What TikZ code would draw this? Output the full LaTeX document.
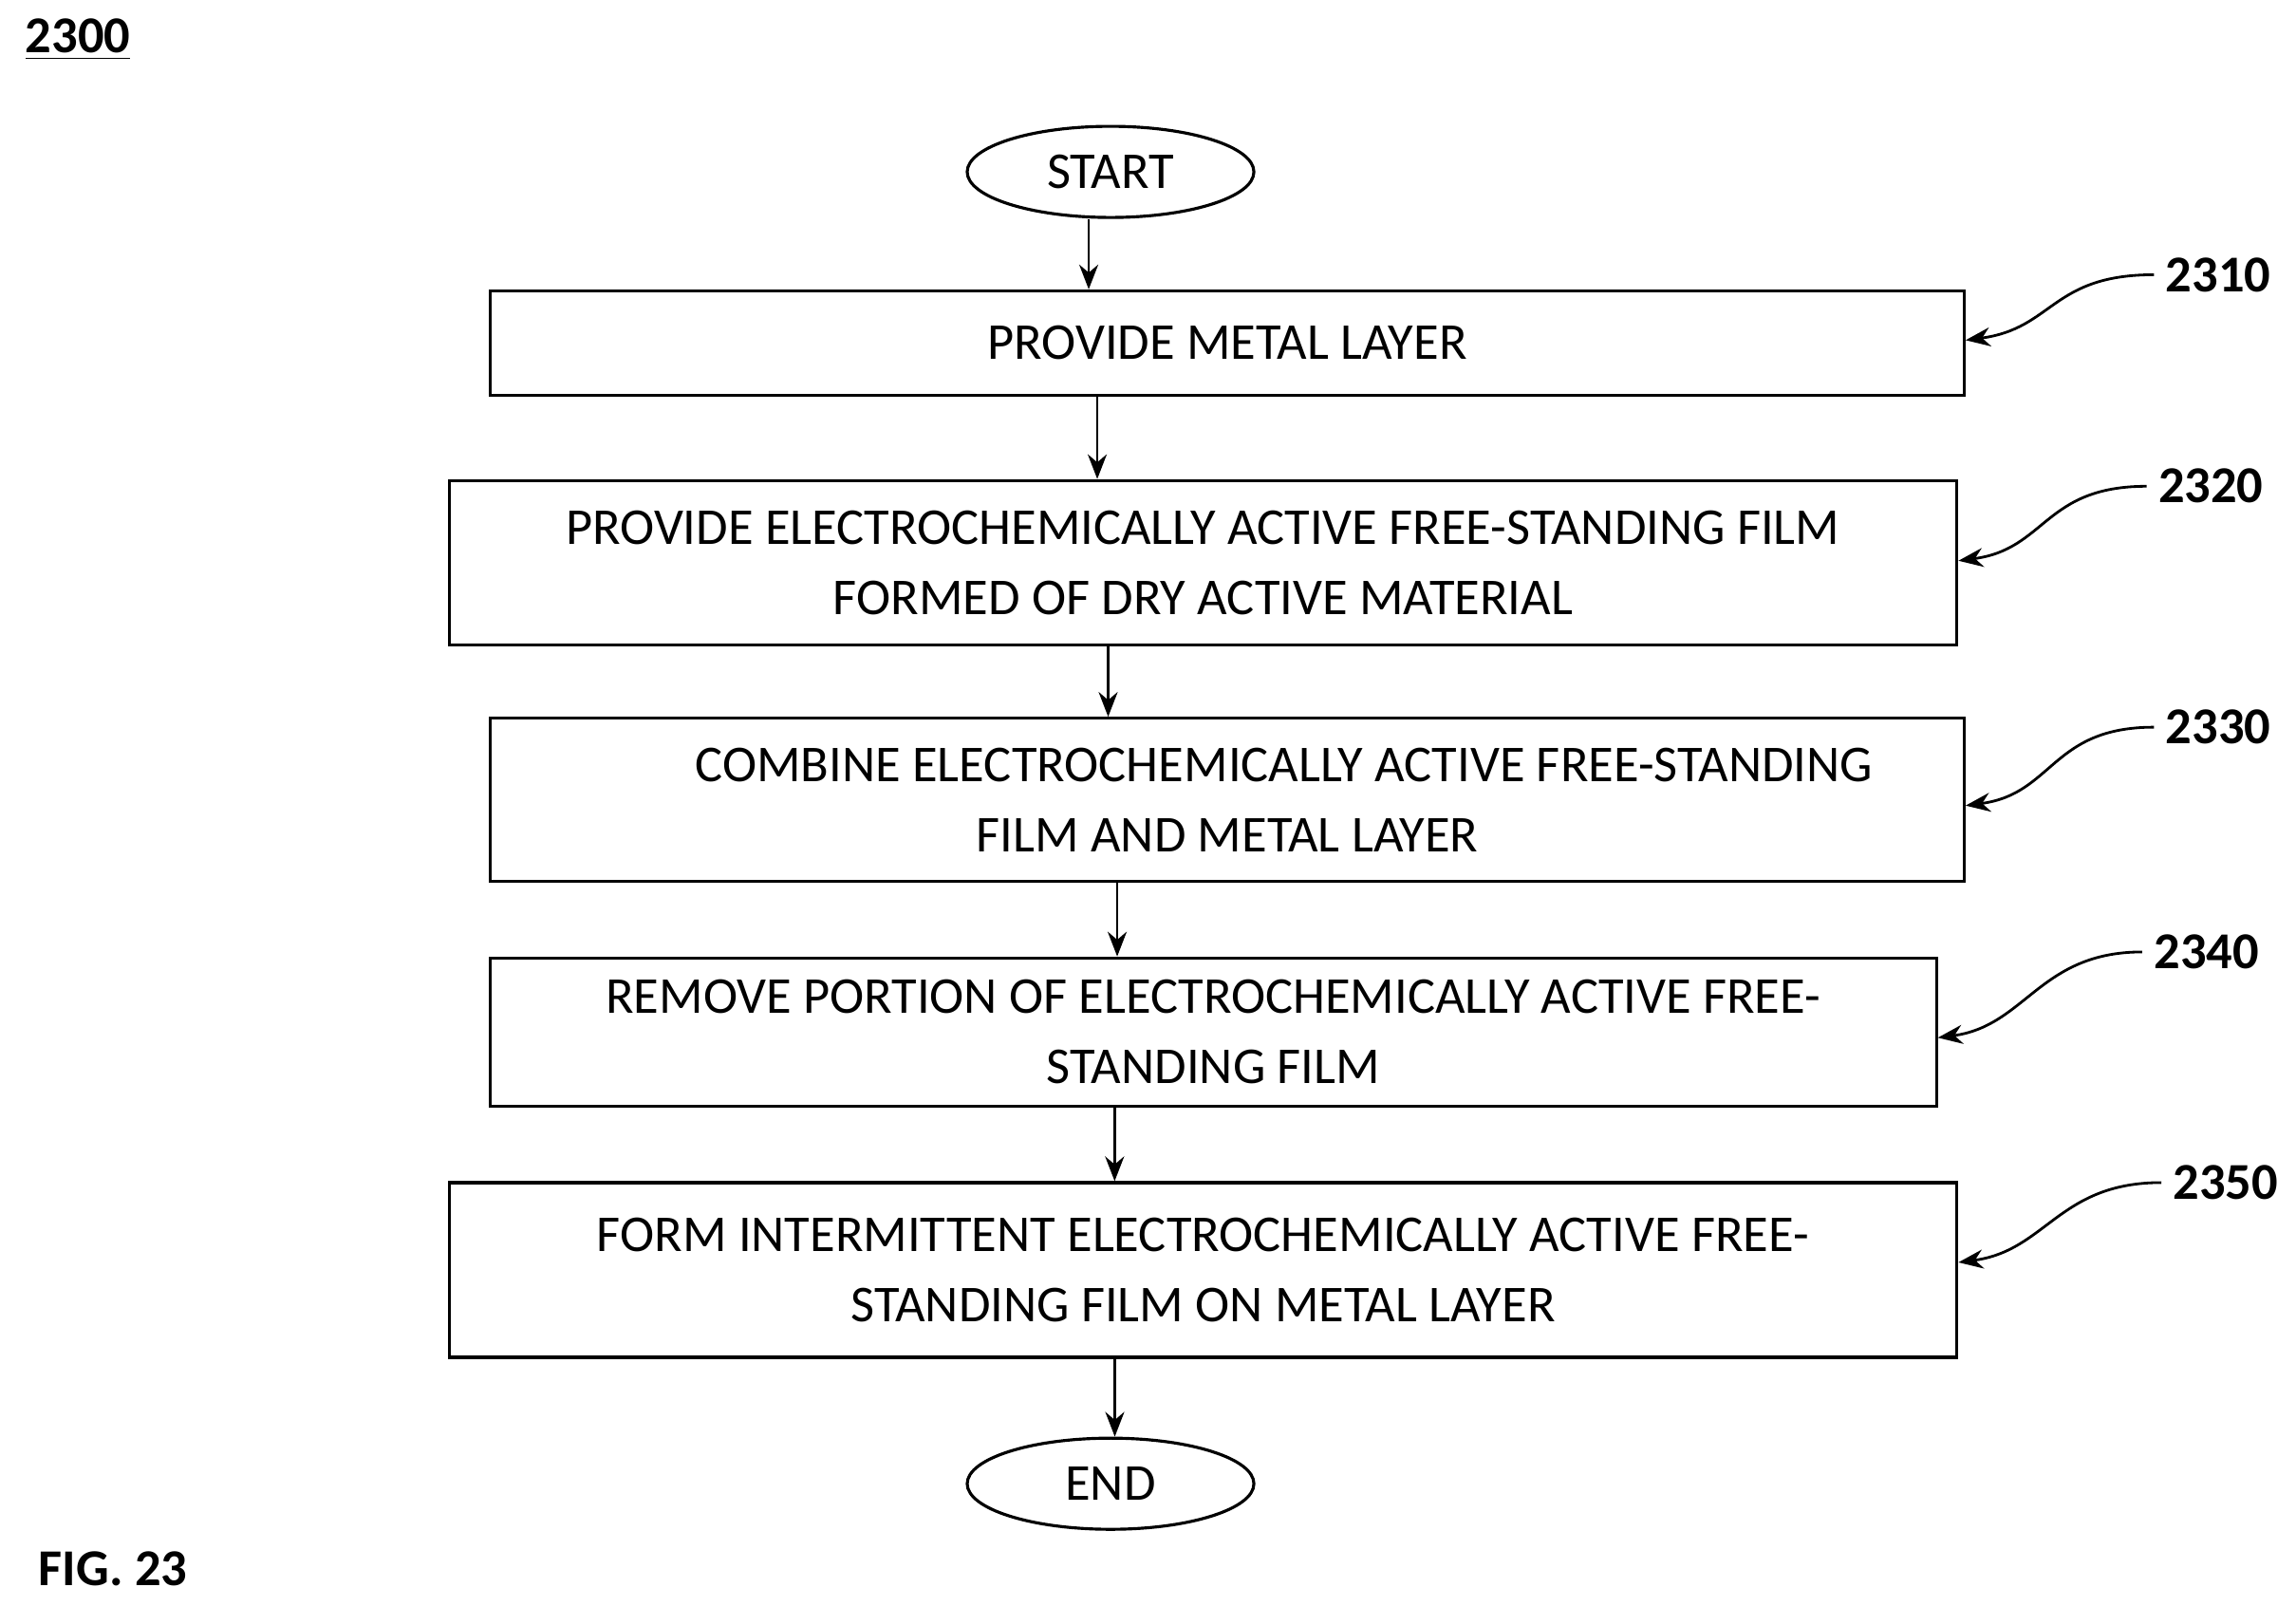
\documentclass[tikz,border=0pt]{standalone}
\usepackage{fontspec}
\setmainfont{Carlito}
\usetikzlibrary{shapes.geometric,arrows.meta}

\tikzset{
  procbox/.style={draw,line width=0.9pt,inner sep=0pt,align=center,font=\fontsize{15.5}{21}\selectfont},
  term/.style={draw,ellipse,line width=0.9pt,inner sep=0pt,minimum width=3.02cm,minimum height=0.96cm,font=\fontsize{15.5}{21}\selectfont},
  arr/.style={line width=0.8pt,-{Stealth[length=2.6mm,width=2mm]}},
  refno/.style={font=\bfseries\fontsize{15.5}{18}\selectfont}
}

\begin{document}
\begin{tikzpicture}[x=0.015477cm,y=-0.015477cm]
\useasboundingbox (0,0) rectangle (1563,1093);

\node[refno] (fig) at (53,27) {\underline{2300}};
\node[refno] (figno) at (77,1068) {FIG. 23};

\node[term] (start) at (756,117) {START};
\node[procbox,minimum width=15.52cm,minimum height=1.10cm] (b1) at (835.5,233.5) {PROVIDE METAL LAYER};
\node[procbox,minimum width=15.88cm,minimum height=1.73cm] (b2) at (819,383) {PROVIDE ELECTROCHEMICALLY ACTIVE FREE-STANDING FILM\\FORMED OF DRY ACTIVE MATERIAL};
\node[procbox,minimum width=15.52cm,minimum height=1.72cm] (b3) at (835.5,544.5) {\hspace*{1.2cm}COMBINE ELECTROCHEMICALLY ACTIVE FREE-STANDING\\FILM AND METAL LAYER};
\node[procbox,minimum width=15.23cm,minimum height=1.56cm] (b4) at (826,702.5) {REMOVE PORTION OF ELECTROCHEMICALLY ACTIVE FREE-\\STANDING FILM};
\node[procbox,minimum width=15.88cm,minimum height=1.84cm] (b5) at (819,864.5) {FORM INTERMITTENT ELECTROCHEMICALLY ACTIVE FREE-\\STANDING FILM ON METAL LAYER};
\node[term] (end) at (756,1010) {END};

% flow
\draw[arr] ([xshift=-0.23cm]start.south) -- ([xshift=-0.23cm]start.south |- b1.north);
\draw[arr] ([xshift=-1.37cm]b1.south) -- ([xshift=-1.37cm]b1.south |- b2.north);
\draw[arr] ([xshift=-1.0cm]b2.south) -- ([xshift=-1.0cm]b2.south |- b3.north);
\draw[arr] ([xshift=-1.16cm]b3.south) -- ([xshift=-1.16cm]b3.south |- b4.north);
\draw[arr] ([xshift=-1.04cm]b4.south) -- ([xshift=-1.04cm]b4.south |- b5.north);
\draw[arr] ([xshift=-0.93cm]b5.south) -- ([xshift=-0.93cm]b5.south |- end.north);

% reference numerals
\node[refno] (r1) at (1510,187) {2310};
\node[refno] (r2) at (1505,331) {2320};
\node[refno] (r3) at (1510,495) {2330};
\node[refno] (r4) at (1502,648) {2340};
\node[refno] (r5) at (1515,805) {2350};
\draw[arr] (r1.west) .. controls +(-70,0) and +(60,-8) .. ([yshift=0.03cm]b1.east);
\draw[arr] (r2.west) .. controls +(-70,0) and +(60,-8) .. ([yshift=0.02cm]b2.east);
\draw[arr] (r3.west) .. controls +(-70,0) and +(60,-8) .. ([yshift=-0.06cm]b3.east);
\draw[arr] (r4.west) .. controls +(-70,0) and +(60,-8) .. ([yshift=-0.06cm]b4.east);
\draw[arr] (r5.west) .. controls +(-70,0) and +(60,-8) .. ([yshift=0.08cm]b5.east);
\end{tikzpicture}
\end{document}
